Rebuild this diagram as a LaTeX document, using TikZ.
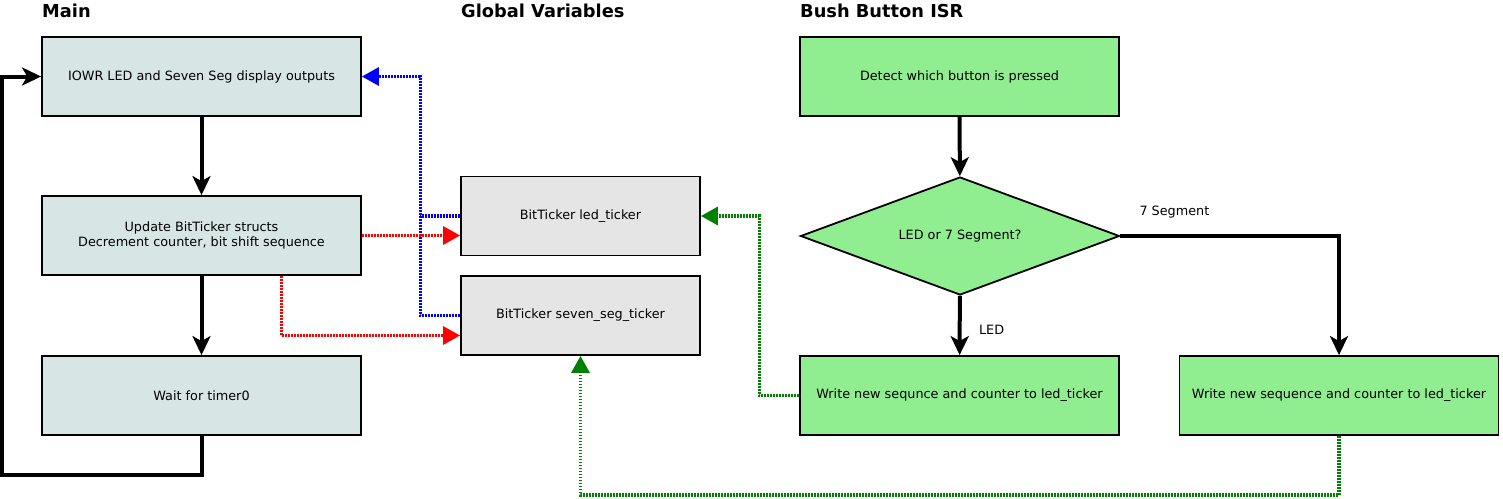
\documentclass[tikz,border=0pt]{standalone}
\usepackage{fontspec}
\setmainfont{DejaVu Sans}
\usetikzlibrary{shapes.geometric,arrows.meta}

\definecolor{mainfill}{HTML}{D8E5E5}
\definecolor{varfill}{HTML}{E5E5E5}
\definecolor{isrfill}{HTML}{90EE90}
\definecolor{dkgreen}{HTML}{008000}

\begin{document}
\begin{tikzpicture}[x=1pt,y=-1pt,
    font=\fontsize{12.8}{15.5}\selectfont,
    box/.style={draw, line width=1.8pt, minimum width=319pt, minimum height=79pt, align=center, inner sep=0pt},
    mainbox/.style={box, fill=mainfill},
    varbox/.style={box, fill=varfill, minimum width=239pt},
    isrbox/.style={box, fill=isrfill},
    title/.style={font=\fontsize{17.8}{20}\selectfont\bfseries, anchor=base west, inner sep=0pt},
    flow/.style={line width=4pt, -{Stealth[length=19pt,width=18pt,inset=5pt]}},
    dotline/.style={line width=3.2pt, dash pattern=on 1.8pt off 1.2pt},
    tip/.style={-{Triangle[length=17pt,width=18pt]}}]
    \useasboundingbox (0,0) rectangle (1503,498);

    % Titles
    \node[title] (tmain) at (42,17) {Main};
    \node[title] (tvar) at (461,17) {Global Variables};
    \node[title] (tisr) at (800,17) {Bush Button ISR};

    % Main loop
    \node[mainbox] (iowr) at (201.5,76.5) {IOWR LED and Seven Seg display outputs};
    \node[mainbox] (upd) at (201.5,235.5) {Update BitTicker structs\\Decrement counter, bit shift sequence};
    \node[mainbox] (wait) at (201.5,395.5) {Wait for timer0};

    % Global variables
    \node[varbox] (led) at (580.5,216) {BitTicker led\_ticker};
    \node[varbox] (seg) at (580.5,315.5) {BitTicker seven\_seg\_ticker};

    % ISR
    \node[isrbox] (detect) at (959.5,76.5) {Detect which button is pressed};
    \node[draw, line width=1.8pt, fill=isrfill, diamond, shape aspect=2.7, inner sep=0pt,
          minimum width=319pt, minimum height=118pt] (which) at (960,236) {LED or 7 Segment?};
    \node[isrbox] (wled) at (959.5,395.5) {Write new sequnce and counter to led\_ticker};
    \node[isrbox] (wseg) at (1339,395.5) {Write new sequence and counter to led\_ticker};

    % Control flow
    \draw[flow] (iowr) -- (upd);
    \draw[flow] (upd) -- (wait);
    \draw[flow] (wait.south) -- ++(0,39) -| ([xshift=-39pt]iowr.west) -- (iowr.west);
    \draw[flow] (detect) -- (which);
    \draw[flow] (which) -- (wled) node[pos=0.5, anchor=west, xshift=14pt, yshift=-4pt] (lled) {LED};
    \draw[flow] (which.east) -| (wseg.north);
    \node[anchor=west] (lseg) at (1136,212) {7 Segment};

    % Data flow
    \draw[dotline, blue] (led.west) -- ++(-40,0);
    \draw[dotline, blue, tip] (seg.west) -- ++(-40,0) |- (iowr.east);
    \draw[dotline, red, tip] (upd.east) -- (upd.east -| led.west);
    \draw[dotline, red, tip] ([xshift=80pt]upd.south) |- ([yshift=-20pt]seg.west);
    \draw[dotline, dkgreen, tip] (wled.west) -- ++(-40,0) |- (led.east);
    \draw[dotline, dkgreen, tip] (wseg.south) -- ++(0,59) -| (seg.south);
\end{tikzpicture}
\end{document}
